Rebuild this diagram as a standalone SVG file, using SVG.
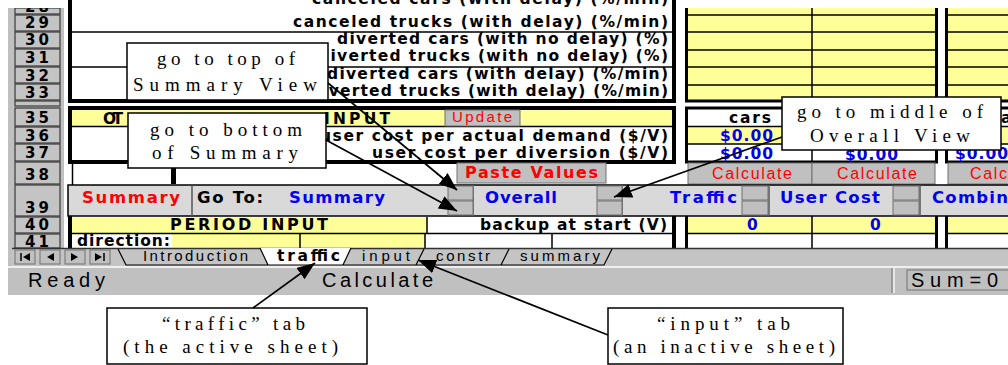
<svg xmlns="http://www.w3.org/2000/svg" width="1008" height="365" viewBox="0 0 1008 365">
<defs>
<style>
.b{font-family:"DejaVu Sans","Liberation Sans",sans-serif;font-weight:bold;font-size:15.5px;fill:#000}
.n{font-family:"Liberation Sans",Arial,sans-serif;font-size:15px;fill:#000}
.bl{fill:#0000ee}
.rd{fill:#ff0000}
.y{fill:#ffff99}
.hdr{fill:#c4c4c4;stroke:#3a3a3a;stroke-width:1.2}
.btn{fill:#c0c0c0;stroke:#707070;stroke-width:1}
.k{stroke:#000;fill:none;stroke-width:1.5}
.ct{font-family:"Liberation Serif","Times New Roman",serif;font-size:19px;fill:#000}
.box{fill:#fff;stroke:#000;stroke-width:1.5}
.cn{stroke:#000;stroke-width:1.7;fill:none;marker-end:url(#ah)}
.tb{font-size:16.5px}
.st{font-size:20px}
</style>
<marker id="ah" markerUnits="userSpaceOnUse" markerWidth="20" markerHeight="16" refX="18" refY="7" orient="auto"><path d="M0,0 L18,7 L0,14 z" fill="#000"/></marker>
</defs>
<rect width="1008" height="365" fill="#fff"/>
<g id="sheet">
<rect x="8" y="8" width="1000" height="287" fill="#c0c0c0"/>
<rect x="64" y="8" width="944" height="240" fill="#fff"/>
<g id="row-headers">
<rect class="hdr" x="15" y="8" width="45" height="6"/>
<rect class="hdr" x="15" y="15" width="45" height="16"/>
<rect class="hdr" x="15" y="32" width="45" height="16"/>
<rect class="hdr" x="15" y="49" width="45" height="17"/>
<rect class="hdr" x="15" y="67" width="45" height="16"/>
<rect class="hdr" x="15" y="84" width="45" height="16"/>
<rect class="hdr" x="15" y="101" width="45" height="5"/>
<rect class="hdr" x="15" y="108" width="45" height="18"/>
<rect class="hdr" x="15" y="127" width="45" height="16"/>
<rect class="hdr" x="15" y="144" width="45" height="17"/>
<rect class="hdr" x="15" y="162" width="45" height="22"/>
<rect class="hdr" x="15" y="185" width="45" height="31"/>
<rect class="hdr" x="15" y="217" width="45" height="16"/>
<rect class="hdr" x="15" y="234" width="45" height="14"/>
<text class="b" x="25" y="12" textLength="24" style="font-size:15px">28</text>
<text class="b" x="25" y="28" textLength="24" style="font-size:15px">29</text>
<text class="b" x="25" y="45" textLength="24" style="font-size:15px">30</text>
<text class="b" x="25" y="63" textLength="24" style="font-size:15px">31</text>
<text class="b" x="25" y="81" textLength="24" style="font-size:15px">32</text>
<text class="b" x="25" y="98" textLength="24" style="font-size:15px">33</text>
<text class="b" x="25" y="123" textLength="24" style="font-size:15px">35</text>
<text class="b" x="25" y="141" textLength="24" style="font-size:15px">36</text>
<text class="b" x="25" y="158" textLength="24" style="font-size:15px">37</text>
<text class="b" x="25" y="180" textLength="24" style="font-size:15px">38</text>
<text class="b" x="25" y="213" textLength="24" style="font-size:15px">39</text>
<text class="b" x="25" y="230" textLength="24" style="font-size:15px">40</text>
<text class="b" x="25" y="247" textLength="24" style="font-size:15px">41</text>
<rect x="0" y="0" width="64" height="8" fill="#fff"/>
</g>
<rect x="70" y="-10" width="604" height="111" fill="#fff" stroke="#000" stroke-width="4"/>
<path class="k" d="M72,32H672M72,67H672"/>
<rect x="686.5" y="-10" width="250" height="111" class="y" stroke="#000" stroke-width="3"/>
<rect x="946.5" y="-10" width="70" height="111" class="y" stroke="#000" stroke-width="3"/>
<path class="k" d="M688,15H935M688,32H935M688,50H935M688,67H935M688,85H935M812,0V100M948,15H1008M948,32H1008M948,50H1008M948,67H1008M948,85H1008"/>
<rect x="677" y="0" width="331" height="8" fill="#fff"/>
<text class="b" x="312" y="4" textLength="356">canceled cars (with delay) (%/min)</text>
<text class="b" x="293" y="27" textLength="375">canceled trucks (with delay) (%/min)</text>
<text class="b" x="337" y="44" textLength="331">diverted cars (with no delay) (%)</text>
<text class="b" x="318" y="61" textLength="350">diverted trucks (with no delay) (%)</text>
<text class="b" x="327" y="79" textLength="341">diverted cars (with delay) (%/min)</text>
<text class="b" x="310" y="96" textLength="358">diverted trucks (with delay) (%/min)</text>
<rect x="70" y="108" width="604" height="54" fill="#fff" stroke="#000" stroke-width="4"/>
<rect x="72" y="110" width="600" height="16" class="y"/>
<path class="k" d="M72,126.5H672"/>
<text class="b" x="103" y="124" textLength="20">OT</text>
<text class="b" x="324" y="124" textLength="66">INPUT</text>
<rect class="btn" x="445" y="110" width="75" height="16"/>
<text class="n rd" x="452" y="122" textLength="60">Update</text>
<text class="b" x="320" y="141" textLength="348">user cost per actual demand ($/V)</text>
<text class="b" x="372" y="158" textLength="296">user cost per diversion ($/V)</text>
<rect x="686.5" y="108" width="250" height="54" fill="#fff" stroke="#000" stroke-width="3"/>
<rect x="946.5" y="108" width="70" height="54" fill="#fff" stroke="#000" stroke-width="3"/>
<rect x="688" y="126.5" width="247" height="17.5" class="y"/>
<rect x="948" y="126.5" width="60" height="17.5" class="y"/>
<path class="k" d="M688,126.5H935M688,144H935M812,109V161M948,126.5H1008M948,144H1008"/>
<text class="b" x="729" y="123" textLength="42">cars</text>
<text class="b" x="1001" y="123">a</text>
<text class="b bl" x="720" y="141" textLength="53">$0.00</text>
<text class="b bl" x="720" y="159" textLength="53">$0.00</text>
<text class="b bl" x="845" y="160" textLength="53">$0.00</text>
<text class="b bl" x="955" y="159" textLength="53">$0.00</text>
<path class="k" d="M72.5,162V185"/>
<rect x="171" y="166" width="5" height="18" fill="#000"/>
<rect class="btn" x="457" y="163" width="149" height="20"/>
<text class="b rd" x="465" y="178" textLength="133" style="font-size:16px">Paste Values</text>
<rect class="btn" x="688" y="163" width="124" height="21"/>
<rect class="btn" x="812" y="163" width="123" height="21"/>
<rect class="btn" x="948" y="163" width="62" height="21"/>
<text class="n rd" x="712" y="179" textLength="80" style="font-size:16px">Calculate</text>
<text class="n rd" x="837" y="179" textLength="80" style="font-size:16px">Calculate</text>
<text class="n rd" x="970" y="179" textLength="80" style="font-size:16px">Calculate</text>
<rect x="68" y="185" width="945" height="31" fill="#d9d9d9" stroke="#000" stroke-width="1.5"/>
<path d="M192,185V216M473,185V216M622,185V216M769,185V216M920,185V216" stroke="#555" stroke-width="1.5"/>
<text class="b rd tb" x="82" y="203" textLength="98">Summary</text>
<text class="b tb" x="197" y="203" textLength="66">Go To:</text>
<text class="b bl tb" x="289" y="203" textLength="96">Summary</text>
<text class="b bl tb" x="485" y="203" textLength="72">Overall</text>
<text class="b bl tb" x="670" y="203" textLength="67">Traffic</text>
<text class="b bl tb" x="780" y="203" textLength="100">User Cost</text>
<text class="b bl tb" x="932" y="203" textLength="76">Combin</text>
<rect class="btn" x="448" y="186" width="25" height="14"/><rect class="btn" x="448" y="201" width="25" height="14"/>
<rect class="btn" x="597" y="186" width="25" height="14"/><rect class="btn" x="597" y="201" width="25" height="14"/>
<rect class="btn" x="742" y="186" width="26" height="14"/><rect class="btn" x="742" y="201" width="26" height="14"/>
<rect class="btn" x="893" y="186" width="26" height="14"/><rect class="btn" x="893" y="201" width="26" height="14"/>
<rect x="72" y="217" width="355" height="16" class="y"/>
<rect x="688" y="217" width="247" height="16" class="y"/>
<rect x="948" y="217" width="60" height="16" class="y"/>
<rect x="172" y="234" width="253" height="14" class="y"/>
<path class="k" d="M72,233.5H672M688,233.5H935M948,233.5H1008M427,217V233M812,216V248M300,234V248M425,234V248M552,234V248"/>
<rect x="68" y="216" width="4" height="32" fill="#000"/>
<rect x="672" y="216" width="4" height="32" fill="#000"/>
<rect x="685" y="216" width="3" height="32" fill="#000"/>
<rect x="935" y="216" width="3" height="32" fill="#000"/>
<rect x="945" y="216" width="3" height="32" fill="#000"/>
<text class="b" x="170" y="230" textLength="158" style="font-size:16px">PERIOD INPUT</text>
<text class="b" x="480" y="230" textLength="187">backup at start (V)</text>
<text class="b bl" x="747" y="230" textLength="10">0</text>
<text class="b bl" x="870" y="230" textLength="10">0</text>
<text class="b" x="77" y="246" textLength="93">direction:</text>
<rect x="12" y="248" width="996" height="18" fill="#c4c4c4"/>
<path d="M12,248.5H1008" stroke="#333" stroke-width="1.5"/>
<rect class="btn" x="15" y="250" width="20" height="14"/>
<rect class="btn" x="40" y="250" width="20" height="14"/>
<rect class="btn" x="65" y="250" width="20" height="14"/>
<rect class="btn" x="90" y="250" width="20" height="14"/>
<path d="M21,253V261" stroke="#000" stroke-width="1.5"/>
<path d="M30,253L23,257L30,261z M54,253L47,257L54,261z M71,253L78,257L71,261z M95,253L102,257L95,261z" fill="#000"/>
<path d="M104,253V261" stroke="#000" stroke-width="1.5"/>
<polygon points="260,248 268,265 343,265 351,248" fill="#fff"/>
<path d="M118,249L126,265H268M260,248L268,265H343L351,248M343,265H416L424,249M416,265H501L509,249M501,265H604L612,249" fill="none" stroke="#000" stroke-width="1.2"/>
<text class="n" x="143" y="261" textLength="105">Introduction</text>
<text class="b" x="277" y="261" textLength="63">traffic</text>
<text class="n" x="362" y="261" textLength="48">input</text>
<text class="n" x="436" y="261" textLength="54">constr</text>
<text class="n" x="520" y="261" textLength="80">summary</text>
<rect x="8" y="266" width="1000" height="29" fill="#c0c0c0"/>
<path d="M8,267H1008" stroke="#fff" stroke-width="1.5"/>
<path d="M892,268V293" stroke="#808080" stroke-width="1.2"/>
<path d="M894,268V293" stroke="#fff" stroke-width="1.2"/>
<rect x="907" y="270" width="110" height="20" fill="none" stroke="#808080" stroke-width="1.2"/>
<text class="n st" x="28" y="287" textLength="77">Ready</text>
<text class="n st" x="322" y="287" textLength="111">Calculate</text>
<text class="n st" x="911" y="287" textLength="87">Sum=0</text>
</g>
<g id="callout-top-summary">
<rect class="box" x="127" y="43" width="201" height="57"/>
<text class="ct" x="157" y="65" textLength="138">go to top of</text>
<text class="ct" x="133" y="91" textLength="184">Summary View</text>
</g>
<g id="callout-bottom-summary">
<rect class="box" x="128" y="113" width="198" height="55"/>
<text class="ct" x="150" y="136" textLength="152">go to bottom</text>
<text class="ct" x="152" y="159" textLength="146">of Summary</text>
</g>
<g id="callout-middle-overall">
<rect class="box" x="782" y="97" width="219" height="53"/>
<text class="ct" x="797" y="118" textLength="186">go to middle of</text>
<text class="ct" x="810" y="142" textLength="160">Overall View</text>
</g>
<g id="callout-traffic-tab">
<rect class="box" x="107" y="308" width="260" height="56"/>
<text class="ct" x="162" y="330" textLength="143">“traffic” tab</text>
<text class="ct" x="123" y="353" textLength="215">(the active sheet)</text>
</g>
<g id="callout-input-tab">
<rect class="box" x="608" y="308" width="235" height="56"/>
<text class="ct" x="657" y="330" textLength="133">“input” tab</text>
<text class="ct" x="613" y="353" textLength="222">(an inactive sheet)</text>
</g>
<g id="connectors">
<line class="cn" x1="328" y1="83" x2="457" y2="190"/>
<line class="cn" x1="326" y1="140" x2="457" y2="211"/>
<line class="cn" x1="782" y1="137" x2="614" y2="197"/>
<line class="cn" x1="253" y1="308" x2="315" y2="263"/>
<line class="cn" x1="608" y1="335" x2="418" y2="260"/>
</g>
</svg>
